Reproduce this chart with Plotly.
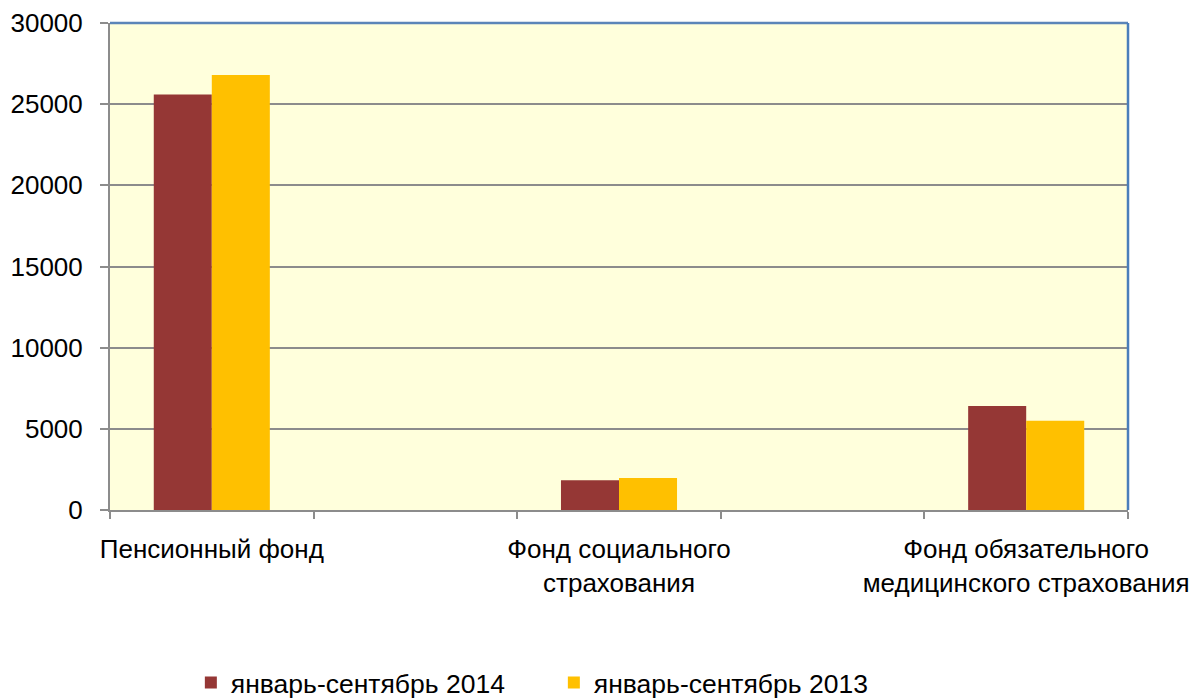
import plotly.graph_objects as go

categories = ["Пенсионный фонд", "", "Фонд социального<br>страхования", "", "Фонд обязательного<br>медицинского страхования"]
series_names = ["январь-сентябрь 2014", "январь-сентябрь 2013"]
values_2014 = [25600, None, 1830, None, 6400]
values_2013 = [26800, None, 1970, None, 5500]
colors = ["#953735", "#FFC000"]
y_ticks = [0, 5000, 10000, 15000, 20000, 25000, 30000]

xpos = list(range(len(categories)))
font = dict(family="Liberation Sans, Arial, sans-serif", size=26, color="#000000")

fig = go.Figure()
for name, vals, col in zip(series_names, [values_2014, values_2013], colors):
    fig.add_trace(go.Bar(x=xpos, y=vals, name=name, marker=dict(color=col, line=dict(width=0))))

label_idx = [i for i, c in enumerate(categories) if c]
fig.update_layout(
    width=1195, height=698,
    margin=dict(l=110, r=67, t=23, b=188, autoexpand=False),
    paper_bgcolor="white", plot_bgcolor="#FFFFDC",
    font=font,
    barmode="group", bargap=0.43, bargroupgap=0,
    showlegend=True,
    legend=dict(orientation="h", x=0.436, xanchor="center", y=-0.355, yanchor="middle",
                font=dict(family=font["family"], size=26.5, color="#000000"),
                entrywidth=318, entrywidthmode="pixels", itemwidth=30,
                traceorder="normal"),
    xaxis=dict(range=[-0.5, len(categories) - 0.5], tickmode="array", automargin=False,
               tickvals=[xpos[i] for i in label_idx], ticktext=[categories[i] for i in label_idx],
               ticks="", showgrid=False, zeroline=False,
               showline=True, linecolor="#8C8C8C", linewidth=2,
               minor=dict(tickmode="array", tickvals=[i - 0.5 for i in range(len(categories) + 1)],
                          ticks="outside", ticklen=7, tickcolor="#8C8C8C", tickwidth=1.5, showgrid=False),
               ticklabelstandoff=15, fixedrange=True),
    yaxis=dict(range=[0, 30000], tickmode="array", tickvals=y_ticks, automargin=False,
               ticktext=[str(v) for v in y_ticks],
               ticks="outside", ticklen=8, tickcolor="#8C8C8C", tickwidth=1.5,
               showgrid=True, gridcolor="#8C8C8C", gridwidth=1.5,
               zeroline=False, showline=True, linecolor="#8C8C8C", linewidth=2,
               ticklabelstandoff=12, fixedrange=True),
    shapes=[
        dict(type="line", xref="paper", yref="paper", x0=0, x1=1, y0=1, y1=1,
             line=dict(color="#5B85B8", width=2.5)),
        dict(type="line", xref="paper", yref="paper", x0=1, x1=1, y0=0, y1=1,
             line=dict(color="#4A7EBB", width=2.5)),
    ],
)

fig.write_html("out.html", config={"displayModeBar": False},
               post_script="document.body.style.margin='0px';document.body.style.overflow='hidden';")
